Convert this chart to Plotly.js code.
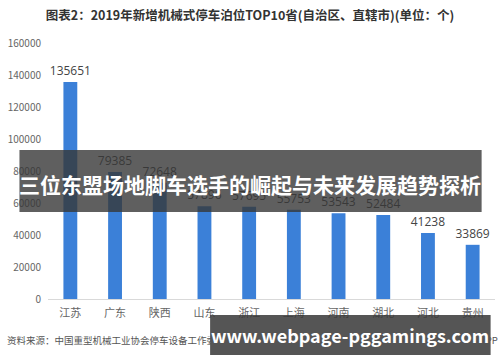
<!DOCTYPE html>
<html><head><meta charset="utf-8">
<script src="https://cdn.plot.ly/plotly-3.0.1.min.js"></script>
<style>html,body{margin:0;padding:0;background:#fff}#c{width:500px;height:362px}</style>
</head><body><div id="c"></div>
<script>
const provinces = ["江苏","广东","陕西","山东","浙江","上海","河南","湖北","河北","贵州"];
const parkingSpaces = [135651,79385,72648,57896,57695,55753,53543,52484,41238,33869];
const yTicks = [0,20000,40000,60000,80000,100000,120000,140000,160000];

const W=500,H=362,L=47.6,R=4.6,T=43,B=63;
const pw=W-L-R, ph=H-T-B;
const px=x=>(x-L)/pw, py=y=>(H-B-y)/ph;
const font="'Noto Sans CJK SC','Noto Sans',sans-serif";

const data=[{
  type:'bar', x:provinces, y:parkingSpaces,
  marker:{color:'#3b80d8'},
  text:parkingSpaces.map(String), textposition:'outside', constraintext:'none',
  textfont:{size:12,color:'#444',family:"'Open Sans','Noto Sans',sans-serif"},
  cliponaxis:false, hoverinfo:'none'
}];
const layout={
  width:W,height:H,margin:{l:L,r:R,t:T,b:B},
  paper_bgcolor:'#fff',plot_bgcolor:'#fff',
  bargap:0.69, showlegend:false,
  font:{family:font},
  title:{text:'<b>图表2：2019年新增机械式停车泊位TOP10省(自治区、直辖市)(单位：个)</b>',
    font:{size:12.5,color:'#333',family:font},x:0.5,xanchor:'center',y:1-16/H,yref:'container',yanchor:'middle'},
  xaxis:{showgrid:false,showline:true,linecolor:'#d9d9d9',linewidth:1,ticks:'',
    tickfont:{size:11,color:'#666',family:font},ticklabelstandoff:4},
  yaxis:{range:[0,160000],tickvals:yTicks,ticktext:yTicks.map(String),showgrid:false,zeroline:false,
    showline:false,ticks:'',tickfont:{size:10,color:'#666',family:font},ticklabelstandoff:6},
  shapes:[
    {type:'rect',xref:'paper',yref:'paper',x0:px(19),x1:px(482),y0:py(212),y1:py(150),
      fillcolor:'rgba(55,55,55,0.8)',line:{width:0},layer:'above'},
    {type:'rect',xref:'paper',yref:'paper',x0:px(210),x1:px(491),y0:py(355),y1:py(315),
      fillcolor:'rgba(55,55,55,0.85)',line:{width:0},layer:'above'}
  ],
  annotations:[
    {xref:'paper',yref:'paper',x:px(250),y:py(184),text:'<b>三位东盟场地脚车选手的崛起与未来发展趋势探析</b>',
      showarrow:false,font:{size:21,color:'#fff',family:font},xanchor:'center',yanchor:'middle'},
    {xref:'paper',yref:'paper',x:px(5),y:py(340),text:'资料来源：中国重型机械工业协会停车设备工作委员会 前瞻产业研究院整理',
      showarrow:false,font:{size:9.5,color:'#555',family:font},xanchor:'left',yanchor:'middle'},
    {xref:'paper',yref:'paper',x:px(500),y:py(340),text:'@前瞻经济学人APP',
      showarrow:false,font:{size:9.5,color:'#555',family:font},xanchor:'right',yanchor:'middle'},
    {xref:'paper',yref:'paper',x:px(350),y:py(335),text:'<b>www.webpage-pggamings.com</b>',
      showarrow:false,font:{size:18,color:'#fff',family:font},xanchor:'center',yanchor:'middle'}
  ]
};
Plotly.newPlot('c',data,layout,{displayModeBar:false,staticPlot:true});
</script></body></html>
